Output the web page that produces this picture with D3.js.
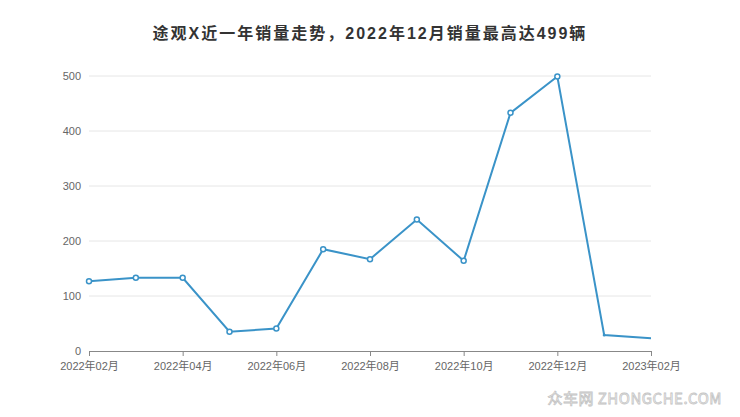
<!DOCTYPE html>
<html><head><meta charset="utf-8">
<script src="https://cdn.jsdelivr.net/npm/d3@7"></script>
<style>body{margin:0;background:#fff}svg{display:block}</style>
</head><body>
<svg id="c" width="740" height="417"></svg>
<script>
const titleText = "途观X近一年销量走势，2022年12月销量最高达499辆";
const months = ["2022-02","2022-03","2022-04","2022-05","2022-06","2022-07","2022-08","2022-09","2022-10","2022-11","2022-12","2023-01","2023-02"];
const sales = [127,133,133,35,41,185,167,239,164,433,499,29,23];
const yTicks = [0,100,200,300,400,500];
const xTickLabels = ["2022年02月","2022年04月","2022年06月","2022年08月","2022年10月","2022年12月","2023年02月"];
const xTickMonths = ["2022-02","2022-04","2022-06","2022-08","2022-10","2022-12","2023-02"];

(function(){
const svg = d3.select("#c");
const font = "'Liberation Sans','Noto Sans CJK SC',sans-serif";
const pL = 89, pR = 651, pT = 76, pB = 351;
const x = d3.scalePoint().domain(months).range([pL, pR]);
const y = d3.scaleLinear().domain([0,500]).range([pB, pT]);

svg.append("text").attr("x",370).attr("y",39).attr("text-anchor","middle")
  .attr("font-family","'Liberation Sans','Noto Sans CJK SC',sans-serif").attr("font-weight","bold")
  .attr("font-size",16).attr("letter-spacing",2).attr("fill","#333").text(titleText);

svg.append("g").selectAll("line").data(yTicks.filter(d=>d>0)).join("line")
  .attr("x1",pL).attr("x2",pR).attr("y1",d=>y(d)).attr("y2",d=>y(d))
  .attr("stroke","#e6e6e6").attr("stroke-width",1);

svg.append("g").selectAll("text").data(yTicks).join("text")
  .attr("x",81).attr("y",d=>y(d)+4).attr("text-anchor","end")
  .attr("font-family",font).attr("font-size",11).attr("fill","#666").text(d=>d);

const xAxis = d3.axisBottom(x).tickValues(xTickMonths)
  .tickFormat((d,i)=>xTickLabels[i]).tickSize(5).tickSizeOuter(0).tickPadding(6);
const gx = svg.append("g").attr("transform",`translate(0,${pB})`).call(xAxis);
gx.select(".domain").attr("stroke","#888");
gx.selectAll(".tick line").attr("stroke","#888");
gx.selectAll(".tick text").attr("font-family",font).attr("font-size",11).attr("fill","#666");

const data = months.map((m,i)=>({m:m, v:sales[i]}));
svg.append("path").datum(data)
  .attr("d", d3.line().x(p=>x(p.m)).y(p=>y(p.v)))
  .attr("fill","none").attr("stroke","#3a93c8").attr("stroke-width",2);

svg.append("g").selectAll("circle").data(data.slice(0,11)).join("circle")
  .attr("cx",p=>x(p.m)).attr("cy",p=>y(p.v)).attr("r",2.5)
  .attr("fill","#fff").attr("stroke","#3a93c8").attr("stroke-width",1.5);
svg.append("circle").attr("cx",x(data[11].m)).attr("cy",y(data[11].v)).attr("r",1.5).attr("fill","#3a93c8");

svg.append("text").attr("x",722).attr("y",404).attr("text-anchor","end")
  .attr("font-family","'Noto Sans CJK SC',sans-serif").attr("font-size",15)
  .attr("fill","#fff").attr("stroke","#c4c4c4").attr("stroke-width",0.8)
  .attr("letter-spacing",0.5).text("众车网 ZHONGCHE.COM");
})();
</script>
</body></html>
